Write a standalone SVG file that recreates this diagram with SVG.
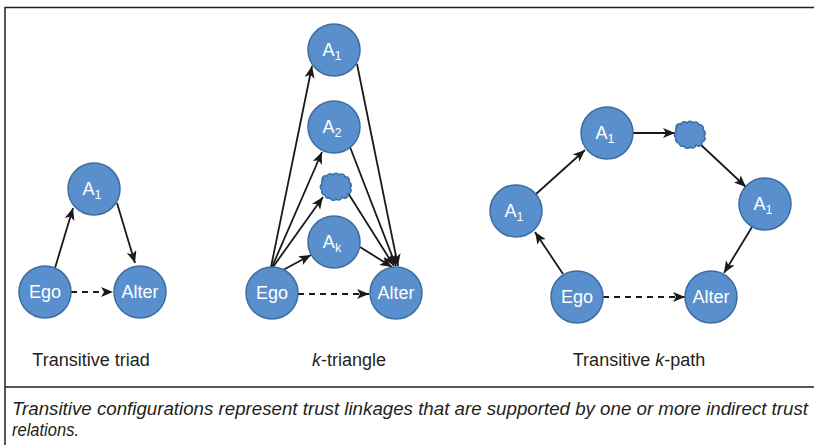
<svg xmlns="http://www.w3.org/2000/svg" xmlns:xlink="http://www.w3.org/1999/xlink" width="814" height="445" viewBox="0 0 814 445">
<style>
.node{fill:#5a8fcd;stroke:#3d6ea3;stroke-width:1.5}
.nt{font-family:"Liberation Sans",Arial,sans-serif;font-size:18px;fill:#fff;text-anchor:middle}
.sub{font-size:12.5px}
.e{stroke:#1a1a1a;stroke-width:1.8;fill:none;marker-end:url(#ah)}
.d{stroke-dasharray:6,5}
.lbl{font-family:"Liberation Sans",Arial,sans-serif;font-size:18px;fill:#231f20;text-anchor:middle}
.cap{font-family:"Liberation Sans",Arial,sans-serif;font-size:18px;font-style:italic;fill:#231f20}
.frame{stroke:#231f20;stroke-width:1.5;fill:none}
</style>
<defs>
<marker id="ah" markerUnits="userSpaceOnUse" markerWidth="14" markerHeight="11" refX="12" refY="5" orient="auto">
<path d="M0,0 L12,5 L0,10 L3,5 z" fill="#1a1a1a"/>
</marker>
<path id="cloud" d="M -14,-8 a3.5,3.5 0 0 1 5,-3 a3.5,3.5 0 0 1 6,-1 a3.5,3.5 0 0 1 6,0 a3.5,3.5 0 0 1 6,2 a3.5,3.5 0 0 1 4,5 a3.5,3.5 0 0 1 1,6 a3.5,3.5 0 0 1 -2,6 a3.5,3.5 0 0 1 -6,3 a3.5,3.5 0 0 1 -6,2 a3.5,3.5 0 0 1 -6,-1 a3.5,3.5 0 0 1 -5,-3 a3.5,3.5 0 0 1 -3,-5 a3.5,3.5 0 0 1 0,-6 a3.5,3.5 0 0 1 2,-5 z"/>
</defs>
<g id="frame">
<path class="frame" d="M5,445 V7.5 H814"/>
<path class="frame" d="M5,387 H814"/>
</g>
<g id="connectors">
<line class="e" x1="55" y1="268" x2="73" y2="208"/>
<line class="e" x1="117" y1="203" x2="135" y2="263"/>
<line class="e d" x1="71" y1="292" x2="113" y2="292"/>
<line class="e" x1="271" y1="267" x2="312" y2="66"/>
<line class="e" x1="272" y1="267" x2="322" y2="152"/>
<line class="e" x1="273" y1="267" x2="323" y2="197"/>
<line class="e" x1="283" y1="270" x2="311" y2="255"/>
<line class="e" x1="357" y1="64" x2="398" y2="266"/>
<line class="e" x1="350" y1="147" x2="396" y2="266"/>
<line class="e" x1="348" y1="193" x2="394" y2="266"/>
<line class="e" x1="360" y1="247" x2="392" y2="267"/>
<line class="e d" x1="298" y1="294" x2="369" y2="294"/>
<line class="e" x1="563" y1="274" x2="535" y2="232"/>
<line class="e" x1="536" y1="194" x2="585" y2="150"/>
<line class="e" x1="633" y1="133" x2="675" y2="133"/>
<line class="e" x1="700" y1="144" x2="746" y2="187"/>
<line class="e" x1="752" y1="227" x2="724" y2="273"/>
<line class="e d" x1="603" y1="297" x2="685" y2="297"/>
</g>
<g id="triad-a1"><circle class="node" cx="94" cy="189" r="26"/><text class="nt" x="92" y="195">A<tspan class="sub" dy="4">1</tspan></text></g>
<g id="triad-ego"><circle class="node" cx="45" cy="292" r="26"/><text class="nt" x="45" y="298">Ego</text></g>
<g id="triad-alter"><circle class="node" cx="140" cy="292" r="26"/><text class="nt" x="140" y="298">Alter</text></g>

<g id="kt-a1"><circle class="node" cx="334" cy="50" r="26"/><text class="nt" x="332" y="56">A<tspan class="sub" dy="4">1</tspan></text></g>
<g id="kt-a2"><circle class="node" cx="334" cy="127" r="26"/><text class="nt" x="332" y="133">A<tspan class="sub" dy="4">2</tspan></text></g>
<g id="kt-cloud"><use href="#cloud" transform="translate(336,187)" class="node"/></g>
<g id="kt-ak"><circle class="node" cx="334" cy="242" r="26"/><text class="nt" x="332" y="248">A<tspan class="sub" dy="4">k</tspan></text></g>
<g id="kt-ego"><circle class="node" cx="272" cy="293" r="26"/><text class="nt" x="272" y="299">Ego</text></g>
<g id="kt-alter"><circle class="node" cx="396" cy="293" r="26"/><text class="nt" x="396" y="299">Alter</text></g>

<g id="kp-a1-left"><circle class="node" cx="516" cy="211" r="26"/><text class="nt" x="514" y="217">A<tspan class="sub" dy="4">1</tspan></text></g>
<g id="kp-a1-top"><circle class="node" cx="607" cy="133" r="26"/><text class="nt" x="605" y="139">A<tspan class="sub" dy="4">1</tspan></text></g>
<g id="kp-cloud"><use href="#cloud" transform="translate(690,135)" class="node"/></g>
<g id="kp-a1-right"><circle class="node" cx="765" cy="204" r="26"/><text class="nt" x="763" y="210">A<tspan class="sub" dy="4">1</tspan></text></g>
<g id="kp-ego"><circle class="node" cx="577" cy="297" r="26"/><text class="nt" x="577" y="303">Ego</text></g>
<g id="kp-alter"><circle class="node" cx="711" cy="297" r="26"/><text class="nt" x="711" y="303">Alter</text></g>

<g id="labels">
<text class="lbl" x="91" y="366">Transitive triad</text>
<text class="lbl" x="349" y="366"><tspan font-style="italic">k</tspan>-triangle</text>
<text class="lbl" x="639" y="366">Transitive <tspan font-style="italic">k</tspan>-path</text>
</g>
<g id="caption">
<text class="cap" x="12" y="415" textLength="796" lengthAdjust="spacingAndGlyphs">Transitive configurations represent trust linkages that are supported by one or more indirect trust</text>
<text class="cap" x="12" y="436" textLength="67" lengthAdjust="spacingAndGlyphs">relations.</text>
</g>
</svg>
